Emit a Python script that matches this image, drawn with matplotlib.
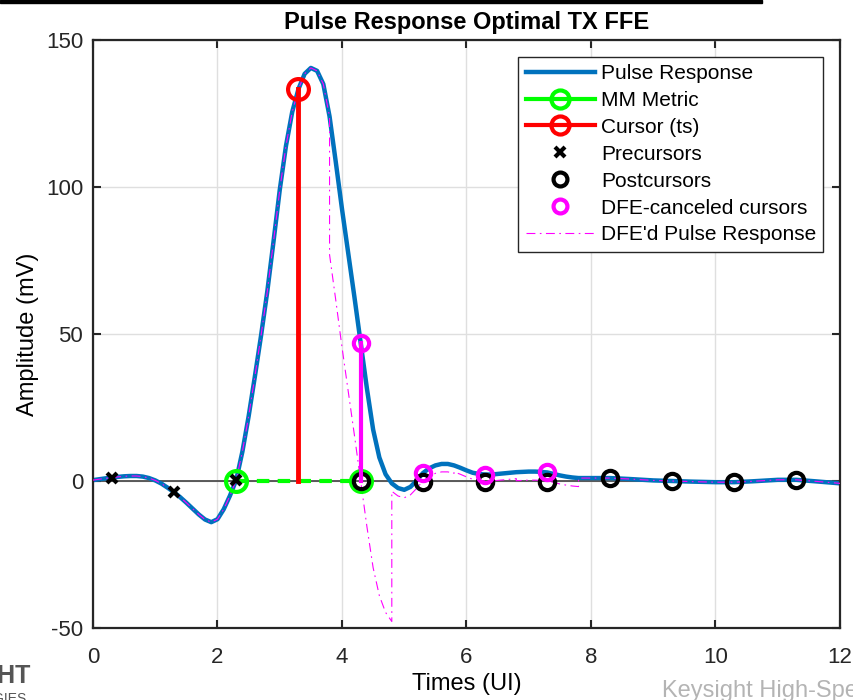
#!/usr/bin/env python3
"""Pulse response with optimal TX FFE, DFE-cancelled cursors and MM metric."""

import matplotlib
matplotlib.use("Agg")
import matplotlib.pyplot as plt
from matplotlib.lines import Line2D
from matplotlib.patches import Rectangle
import numpy as np

plt.rcParams["font.family"] = ["Liberation Sans", "DejaVu Sans"]
plt.rcParams["axes.unicode_minus"] = False

# pulse response (UI, mV)
TIME_UI = [
    0.0, 0.1, 0.2, 0.3, 0.4, 0.5, 0.6, 0.7, 0.8, 0.9,
    1.0, 1.1, 1.2, 1.3, 1.4, 1.5, 1.6, 1.7, 1.8, 1.9,
    2.0, 2.1, 2.2, 2.3, 2.4, 2.5, 2.6, 2.7, 2.8, 2.9,
    3.0, 3.1, 3.2, 3.3, 3.4, 3.5, 3.6, 3.7, 3.8, 3.9,
    4.0, 4.1, 4.2, 4.3, 4.4, 4.5, 4.6, 4.7, 4.8, 4.9,
    5.0, 5.1, 5.2, 5.3, 5.4, 5.5, 5.6, 5.7, 5.8, 5.9,
    6.0, 6.1, 6.2, 6.3, 6.4, 6.5, 6.6, 6.7, 6.8, 6.9,
    7.0, 7.1, 7.2, 7.3, 7.4, 7.5, 7.6, 7.7, 7.8, 7.9,
    8.0, 8.3, 8.6, 9.0, 9.3, 9.6, 10.0, 10.3, 10.6, 11.0,
    11.3, 11.6, 12.0,
]
PULSE_MV = [
    0.3, 0.6, 0.9, 1.1, 1.4, 1.6, 1.7, 1.7, 1.5, 1.0,
    0.2, -0.9, -2.3, -3.8, -5.5, -7.4, -9.4, -11.4, -13.1, -14.0,
    -13.0, -9.6, -5.0, 0.3, 10.0, 22.0, 35.5, 49.5, 64.5, 81.5,
    99.0, 114.0, 125.5, 133.3, 138.5, 140.5, 139.5, 135.0, 124.0, 108.5,
    92.5, 77.5, 62.5, 47.0, 31.5, 17.5, 8.0, 2.3, -0.8, -2.4,
    -3.0, -2.0, 0.2, 2.7, 4.3, 5.3, 5.8, 5.8, 5.3, 4.5,
    3.6, 2.8, 2.4, 2.2, 2.2, 2.4, 2.6, 2.8, 3.0, 3.1,
    3.2, 3.2, 3.1, 2.9, 2.4, 1.9, 1.5, 1.2, 1.0, 1.0,
    1.0, 1.0, 0.7, 0.2, 0.0, -0.2, -0.4, -0.4, -0.1, 0.4,
    0.4, -0.1, -0.8,
]

CURSOR_T = 3.3
CURSOR_MV = 133.3

MM_T = [2.3, 4.3]
MM_MV = [0.0, 0.0]

PRE_T = [0.3, 1.3, 2.3]
PRE_MV = [1.1, -3.8, 0.3]

POST_T = [4.3, 5.3, 6.3, 7.3, 8.3, 9.3, 10.3, 11.3]
POST_MV = [0.0, -0.5, -0.5, -0.5, 1.0, 0.0, -0.4, 0.5]

DFE_T = [4.3, 5.3, 6.3, 7.3]
DFE_MV = [47.0, 2.7, 2.2, 2.9]

BLUE = "#0072BD"


def dfe_pulse(t, p, tap_t, tap_v):
    """Subtract each DFE tap over its one-UI window (keeps the steps)."""
    t = np.asarray(t)
    p = np.asarray(p)
    edges = [t[0]] + [x - 0.5 for x in tap_t] + [tap_t[-1] + 0.5, t[-1]]
    taps = [0.0] + list(tap_v) + [0.0]
    out_t, out_y = [], []
    for lo, hi, tap in zip(edges[:-1], edges[1:], taps):
        m = (t >= lo - 1e-9) & (t <= hi + 1e-9)
        out_t.extend(t[m])
        out_y.extend(p[m] - tap)
    return out_t, out_y


fig = plt.figure(figsize=(8.54, 7.0), dpi=100)
ax = fig.add_axes([93 / 854, 1 - 628 / 700, 747 / 854, 588 / 700])

ax.axhline(0, color="#404040", lw=1.2, zorder=1)
ax.plot(TIME_UI, PULSE_MV, color=BLUE, lw=3.2, zorder=2)

dt, dy = dfe_pulse(TIME_UI, PULSE_MV, DFE_T, DFE_MV)
ax.plot(dt, dy, color="#FF00FF", lw=0.8, dashes=(8, 4, 1.5, 4), zorder=3)

# MM metric
ax.plot(MM_T, MM_MV, color="#00FF00", lw=3, dashes=(3, 2), zorder=4)
ax.plot(MM_T, MM_MV, ls="none", marker="o", ms=15, mfc="none",
        mec="#00FF00", mew=3, zorder=4)

# cursor
ax.plot([CURSOR_T, CURSOR_T], [0, CURSOR_MV], color="#FF0000", lw=3.5, zorder=5)
ax.plot([CURSOR_T], [CURSOR_MV], ls="none", marker="o", ms=15, mfc="none",
        mec="#FF0000", mew=3, zorder=5)

ax.plot(PRE_T, PRE_MV, ls="none", marker="x", ms=7, mec="black", mew=3, zorder=6)
ax.plot(POST_T, POST_MV, ls="none", marker="o", ms=11, mfc="none",
        mec="black", mew=3, zorder=6)
ax.plot(DFE_T, DFE_MV, ls="none", marker="o", ms=11, mfc="none",
        mec="#FF00FF", mew=3, zorder=7)
ax.plot([DFE_T[0], DFE_T[0]], [0, DFE_MV[0]], color="#FF00FF", lw=3, zorder=7)

ax.set_xlim(0, 12)
ax.set_ylim(-50, 150)
ax.set_xticks(range(0, 13, 2))
ax.set_yticks([-50, 0, 50, 100, 150])
ax.grid(True, color="#DFDFDF", lw=1)
ax.set_axisbelow(True)
ax.tick_params(direction="in", length=6, width=1.5, labelsize=16,
               top=True, right=True, colors="#262626")
ax.tick_params(axis="x", pad=14)
ax.tick_params(axis="y", pad=7)
for s in ax.spines.values():
    s.set_linewidth(1.6)
    s.set_color("#262626")

ax.set_title("Pulse Response Optimal TX FFE", fontsize=17, fontweight="bold", pad=8)
ax.set_xlabel("Times (UI)", fontsize=17, labelpad=3)
ax.set_ylabel("Amplitude (mV)", fontsize=17, labelpad=5)

handles = [
    Line2D([], [], color=BLUE, lw=3.2),
    Line2D([], [], color="#00FF00", lw=3, marker="o", ms=13, mfc="none", mew=3),
    Line2D([], [], color="#FF0000", lw=3, marker="o", ms=13, mfc="none", mew=3),
    Line2D([], [], ls="none", marker="x", ms=7, mec="black", mew=3),
    Line2D([], [], ls="none", marker="o", ms=10, mfc="none", mec="black", mew=3),
    Line2D([], [], ls="none", marker="o", ms=10, mfc="none", mec="#FF00FF", mew=3),
    Line2D([], [], color="#FF00FF", lw=0.8, dashes=(8, 4, 1.5, 4)),
]
labels = ["Pulse Response", "MM Metric", "Cursor (ts)", "Precursors",
          "Postcursors", "DFE-canceled cursors", "DFE'd Pulse Response"]
leg = ax.legend(handles, labels, loc="upper right", fontsize=15, handlelength=3.3,
                labelspacing=0.38, borderaxespad=0.8, handletextpad=0.3,
                fancybox=False, framealpha=1, edgecolor="#262626", borderpad=0.35)
leg.get_frame().set_linewidth(1.0)

# screenshot leftovers around the figure
fig.patches.append(Rectangle((0, 697 / 700), 762 / 854, 3 / 700,
                             transform=fig.transFigure, color="black"))
fig.text(31 / 854, 1 - 676 / 700, "KEYSIGHT", ha="right", va="center", fontsize=18,
         fontweight="bold", color="#555555")
fig.text(27 / 854, 1 - 699 / 700, "TECHNOLOGIES", ha="right", va="center",
         fontsize=10, color="#555555")
fig.text(662 / 854, 3 / 700, "Keysight High-Speed Digital", ha="left",
         va="baseline", fontsize=17, color="#B4B4B4")

fig.savefig("out.png", dpi=100)
